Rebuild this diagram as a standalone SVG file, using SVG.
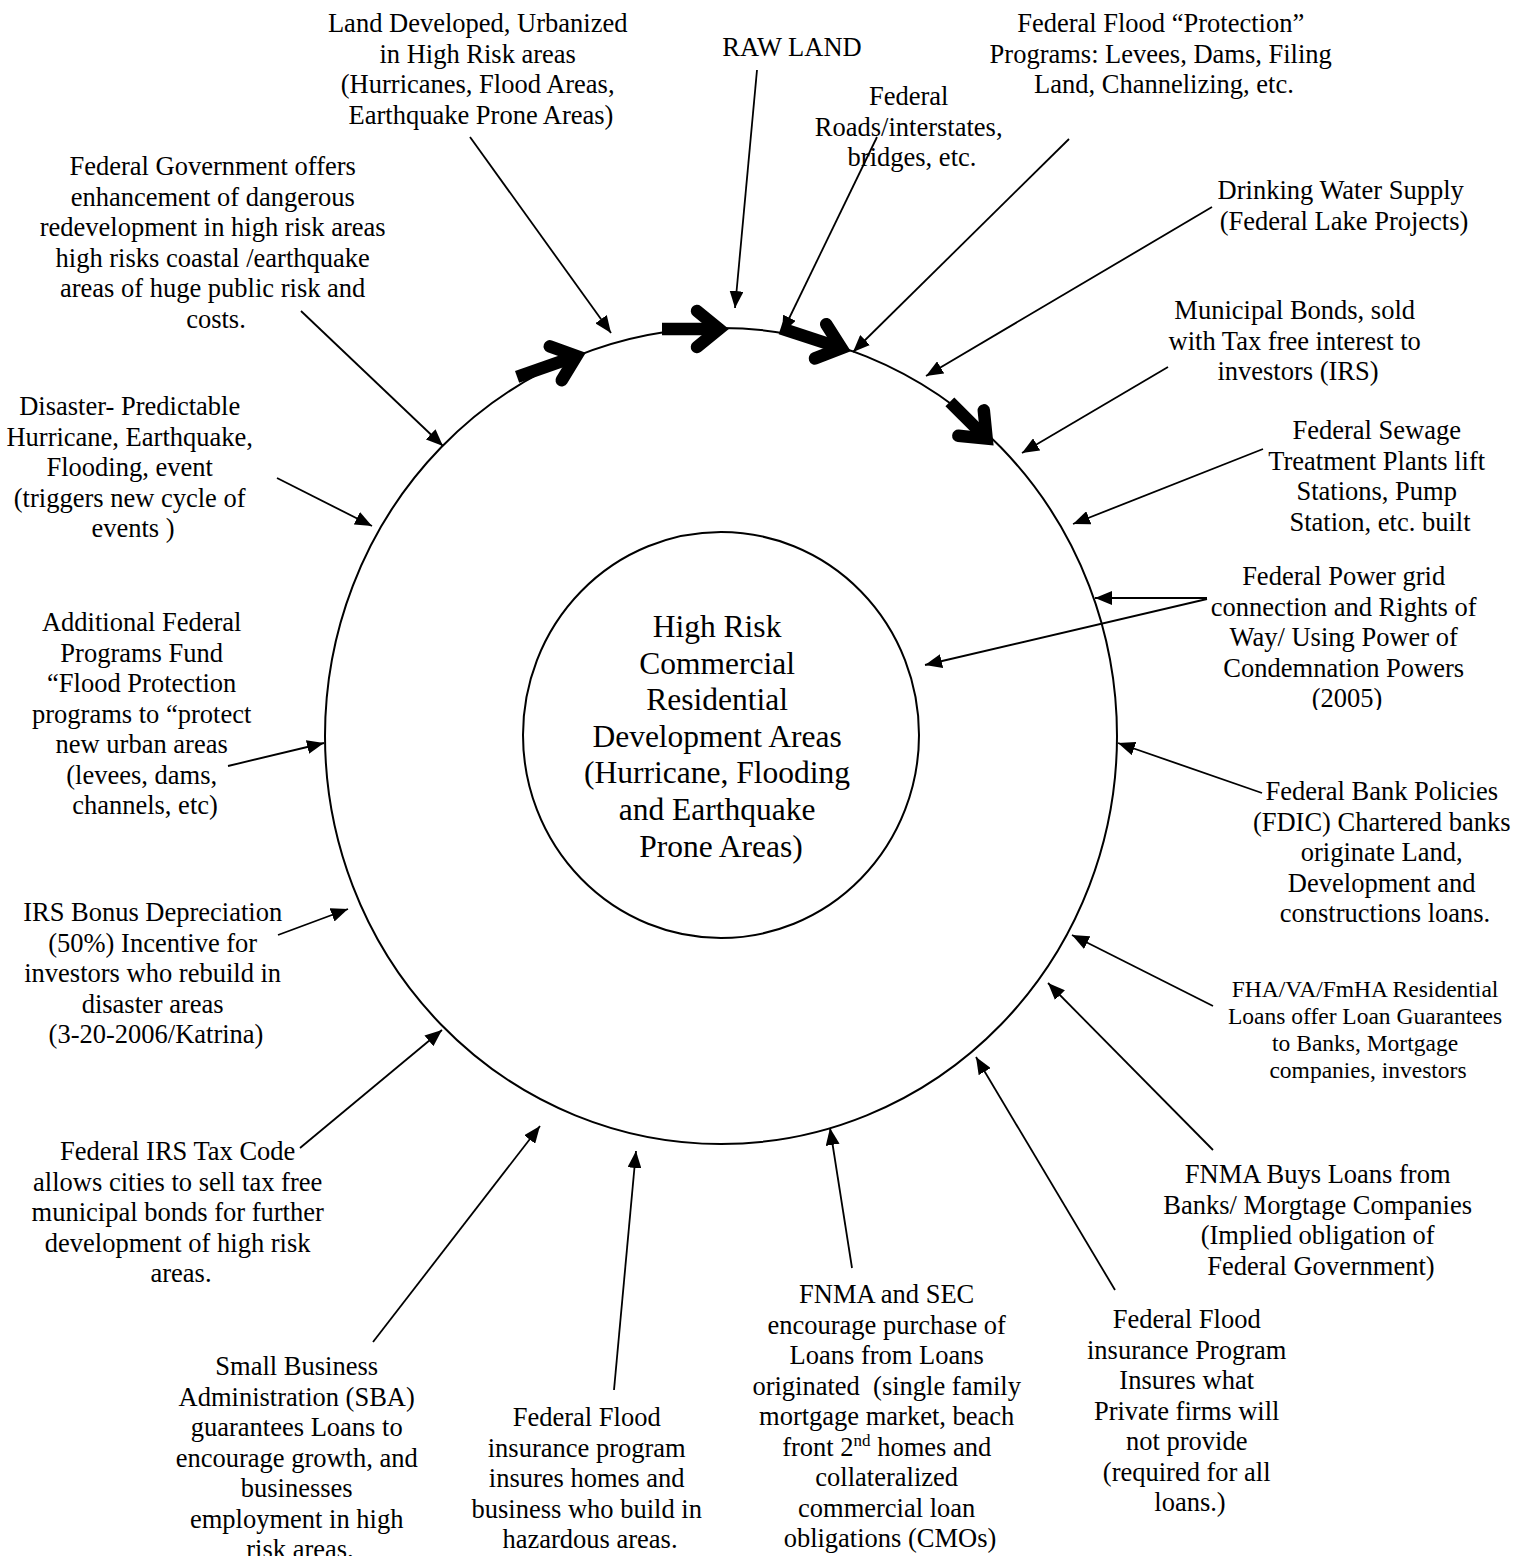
<svg xmlns="http://www.w3.org/2000/svg" width="1527" height="1556" viewBox="0 0 1527 1556">
<style>
.lbl{font-family:"Liberation Serif","Times New Roman",serif;font-size:26.5px;text-anchor:middle;fill:#000}
.small{font-size:23.5px}
.center{font-size:31.5px}
.conn line{stroke:#000;stroke-width:1.8;fill:none}
.ring{fill:none;stroke:#000;stroke-width:2}
.shaft{stroke:#000;stroke-width:12.5;stroke-linecap:butt}
.chev{fill:none;stroke:#000;stroke-width:12.5;stroke-linecap:round;stroke-linejoin:miter;stroke-miterlimit:10}
</style>
<defs>
<marker id="ah" markerUnits="userSpaceOnUse" markerWidth="18" markerHeight="14" refX="17" refY="7" orient="auto">
<path d="M0,0 L17,7 L0,14 z" fill="#000"/>
</marker>
<polyline id="chevron" class="chev" points="-31,-18 -9,0 -31,18"/>
<clipPath id="clipPower"><rect x="1150" y="550" width="377" height="160"/></clipPath>
</defs>
<rect width="1527" height="1556" fill="#fff"/>

<g id="outer-cycle">
<ellipse class="ring" cx="721" cy="736" rx="396" ry="408"/>
</g>

<g id="center-node">
<ellipse class="ring" cx="721" cy="735" rx="198" ry="203"/>
<text class="lbl center">
<tspan x="721" y="637">High Risk</tspan>
<tspan x="721" y="673.5">Commercial</tspan>
<tspan x="721" y="710">Residential</tspan>
<tspan x="721" y="747">Development Areas</tspan>
<tspan x="721" y="783">(Hurricane, Flooding</tspan>
<tspan x="721" y="820">and Earthquake</tspan>
<tspan x="721" y="857">Prone Areas)</tspan>
</text>
</g>

<g id="cycle-arrows">
<g transform="translate(585,353) rotate(-19.4)"><line class="shaft" x1="-72" y1="0" x2="-10" y2="0"/><use href="#chevron"/></g>
<g transform="translate(728,329)"><line class="shaft" x1="-66" y1="0" x2="-10" y2="0"/><use href="#chevron"/></g>
<g transform="translate(850,351) rotate(18.2)"><line class="shaft" x1="-73" y1="0" x2="-10" y2="0"/><use href="#chevron"/></g>
<g transform="translate(993,445) rotate(45)"><line class="shaft" x1="-61" y1="0" x2="-10" y2="0"/><use href="#chevron"/></g>
</g>

<g id="connectors" class="conn">
<line x1="470" y1="137" x2="611" y2="333" marker-end="url(#ah)"/>
<line x1="757" y1="70" x2="735" y2="308" marker-end="url(#ah)"/>
<line x1="877" y1="137" x2="782" y2="333" marker-end="url(#ah)"/>
<line x1="1069" y1="139" x2="853" y2="352" marker-end="url(#ah)"/>
<line x1="1212" y1="207" x2="926" y2="376" marker-end="url(#ah)"/>
<line x1="1168" y1="367" x2="1022" y2="453" marker-end="url(#ah)"/>
<line x1="1263" y1="449" x2="1073" y2="524" marker-end="url(#ah)"/>
<line x1="1207" y1="598" x2="1095" y2="598" marker-end="url(#ah)"/>
<line x1="1207" y1="599" x2="925" y2="665" marker-end="url(#ah)"/>
<line x1="1262" y1="793" x2="1118" y2="743" marker-end="url(#ah)"/>
<line x1="1213" y1="1006" x2="1072" y2="935" marker-end="url(#ah)"/>
<line x1="1213" y1="1150" x2="1048" y2="983" marker-end="url(#ah)"/>
<line x1="1115" y1="1290" x2="976" y2="1057" marker-end="url(#ah)"/>
<line x1="852" y1="1268" x2="830" y2="1128" marker-end="url(#ah)"/>
<line x1="614" y1="1390" x2="636" y2="1151" marker-end="url(#ah)"/>
<line x1="373" y1="1342" x2="540" y2="1126" marker-end="url(#ah)"/>
<line x1="300" y1="1148" x2="442" y2="1030" marker-end="url(#ah)"/>
<line x1="278" y1="935" x2="348" y2="909" marker-end="url(#ah)"/>
<line x1="228" y1="766" x2="324" y2="743" marker-end="url(#ah)"/>
<line x1="277" y1="478" x2="372" y2="526" marker-end="url(#ah)"/>
<line x1="301" y1="311" x2="443" y2="446" marker-end="url(#ah)"/>
</g>

<g id="land-developed"><text class="lbl">
<tspan x="481" y="32">Land Developed, Urbanized</tspan>
<tspan x="481" y="62.5">in High Risk areas</tspan>
<tspan x="481" y="93">(Hurricanes, Flood Areas,</tspan>
<tspan x="481" y="123.5">Earthquake Prone Areas)</tspan>
</text></g>

<g id="raw-land"><text class="lbl"><tspan x="792" y="56">RAW LAND</tspan></text></g>

<g id="flood-protection"><text class="lbl">
<tspan x="1164" y="32">Federal Flood “Protection”</tspan>
<tspan x="1164" y="62.5">Programs: Levees, Dams, Filing</tspan>
<tspan x="1164" y="93">Land, Channelizing, etc.</tspan>
</text></g>

<g id="federal-roads"><text class="lbl">
<tspan x="912" y="105">Federal</tspan>
<tspan x="912" y="135.5">Roads/interstates,</tspan>
<tspan x="912" y="166">bridges, etc.</tspan>
</text></g>

<g id="gov-redevelopment"><text class="lbl">
<tspan x="216" y="175">Federal Government offers</tspan>
<tspan x="216" y="205.5">enhancement of dangerous</tspan>
<tspan x="216" y="236">redevelopment in high risk areas</tspan>
<tspan x="216" y="266.5">high risks coastal /earthquake</tspan>
<tspan x="216" y="297">areas of huge public risk and</tspan>
<tspan x="216" y="327.5">costs.</tspan>
</text></g>

<g id="drinking-water"><text class="lbl">
<tspan x="1344" y="199">Drinking Water Supply</tspan>
<tspan x="1344" y="229.5">(Federal Lake Projects)</tspan>
</text></g>

<g id="municipal-bonds"><text class="lbl">
<tspan x="1298" y="319">Municipal Bonds, sold</tspan>
<tspan x="1298" y="349.5">with Tax free interest to</tspan>
<tspan x="1298" y="380">investors (IRS)</tspan>
</text></g>

<g id="disaster"><text class="lbl">
<tspan x="133" y="415">Disaster- Predictable</tspan>
<tspan x="133" y="445.5">Hurricane, Earthquake,</tspan>
<tspan x="133" y="476">Flooding, event</tspan>
<tspan x="133" y="506.5">(triggers new cycle of</tspan>
<tspan x="133" y="537">events )</tspan>
</text></g>

<g id="sewage"><text class="lbl">
<tspan x="1380" y="439">Federal Sewage</tspan>
<tspan x="1380" y="469.5">Treatment Plants lift</tspan>
<tspan x="1380" y="500">Stations, Pump</tspan>
<tspan x="1380" y="530.5">Station, etc. built</tspan>
</text></g>

<g id="power-grid" clip-path="url(#clipPower)"><text class="lbl">
<tspan x="1347" y="585">Federal Power grid</tspan>
<tspan x="1347" y="615.5">connection and Rights of</tspan>
<tspan x="1347" y="646">Way/ Using Power of</tspan>
<tspan x="1347" y="676.5">Condemnation Powers</tspan>
<tspan x="1347" y="707">(2005)</tspan>
</text></g>

<g id="additional-programs"><text class="lbl">
<tspan x="145" y="631">Additional Federal</tspan>
<tspan x="145" y="661.5">Programs Fund</tspan>
<tspan x="145" y="692">“Flood Protection</tspan>
<tspan x="145" y="722.5">programs to “protect</tspan>
<tspan x="145" y="753">new urban areas</tspan>
<tspan x="145" y="783.5">(levees, dams,</tspan>
<tspan x="145" y="814">channels, etc)</tspan>
</text></g>

<g id="bank-policies"><text class="lbl">
<tspan x="1385" y="800">Federal Bank Policies</tspan>
<tspan x="1385" y="830.5">(FDIC) Chartered banks</tspan>
<tspan x="1385" y="861">originate Land,</tspan>
<tspan x="1385" y="891.5">Development and</tspan>
<tspan x="1385" y="922">constructions loans.</tspan>
</text></g>

<g id="irs-bonus"><text class="lbl">
<tspan x="156" y="921">IRS Bonus Depreciation</tspan>
<tspan x="156" y="951.5">(50%) Incentive for</tspan>
<tspan x="156" y="982">investors who rebuild in</tspan>
<tspan x="156" y="1012.5">disaster areas</tspan>
<tspan x="156" y="1043">(3-20-2006/Katrina)</tspan>
</text></g>

<g id="fha"><text class="lbl small">
<tspan x="1368" y="997">FHA/VA/FmHA Residential</tspan>
<tspan x="1368" y="1024">Loans offer Loan Guarantees</tspan>
<tspan x="1368" y="1051">to Banks, Mortgage</tspan>
<tspan x="1368" y="1078">companies, investors</tspan>
</text></g>

<g id="fnma-buys"><text class="lbl">
<tspan x="1321" y="1183">FNMA Buys Loans from</tspan>
<tspan x="1321" y="1213.5">Banks/ Morgtage Companies</tspan>
<tspan x="1321" y="1244">(Implied obligation of</tspan>
<tspan x="1321" y="1274.5">Federal Government)</tspan>
</text></g>

<g id="irs-tax-code"><text class="lbl">
<tspan x="181" y="1160">Federal IRS Tax Code</tspan>
<tspan x="181" y="1190.5">allows cities to sell tax free</tspan>
<tspan x="181" y="1221">municipal bonds for further</tspan>
<tspan x="181" y="1251.5">development of high risk</tspan>
<tspan x="181" y="1282">areas.</tspan>
</text></g>

<g id="sba"><text class="lbl">
<tspan x="300" y="1375">Small Business</tspan>
<tspan x="300" y="1405.5">Administration (SBA)</tspan>
<tspan x="300" y="1436">guarantees Loans to</tspan>
<tspan x="300" y="1466.5">encourage growth, and</tspan>
<tspan x="300" y="1497">businesses</tspan>
<tspan x="300" y="1527.5">employment in high</tspan>
<tspan x="300" y="1558">risk areas.</tspan>
</text></g>

<g id="flood-insurance-homes"><text class="lbl">
<tspan x="590" y="1426">Federal Flood</tspan>
<tspan x="590" y="1456.5">insurance program</tspan>
<tspan x="590" y="1487">insures homes and</tspan>
<tspan x="590" y="1517.5">business who build in</tspan>
<tspan x="590" y="1548">hazardous areas.</tspan>
</text></g>

<g id="fnma-sec"><text class="lbl">
<tspan x="890" y="1303">FNMA and SEC</tspan>
<tspan x="890" y="1333.5">encourage purchase of</tspan>
<tspan x="890" y="1364">Loans from Loans</tspan>
<tspan x="890" y="1394.5" xml:space="preserve">originated  (single family</tspan>
<tspan x="890" y="1425">mortgage market, beach</tspan>
<tspan x="890" y="1455.5">front 2<tspan font-size="17" dy="-10">nd</tspan><tspan dy="10"> homes and</tspan></tspan>
<tspan x="890" y="1486">collateralized</tspan>
<tspan x="890" y="1516.5">commercial loan</tspan>
<tspan x="890" y="1547">obligations (CMOs)</tspan>
</text></g>

<g id="flood-insurance-private"><text class="lbl">
<tspan x="1190" y="1328">Federal Flood</tspan>
<tspan x="1190" y="1358.5">insurance Program</tspan>
<tspan x="1190" y="1389">Insures what</tspan>
<tspan x="1190" y="1419.5">Private firms will</tspan>
<tspan x="1190" y="1450">not provide</tspan>
<tspan x="1190" y="1480.5">(required for all</tspan>
<tspan x="1190" y="1511">loans.)</tspan>
</text></g>
</svg>
